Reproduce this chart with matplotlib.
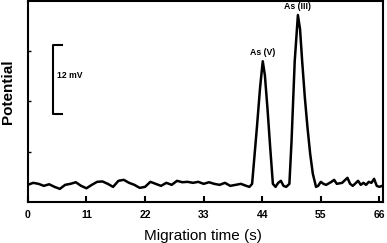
import numpy as np
import matplotlib
matplotlib.use("Agg")
import matplotlib.pyplot as plt

plt.rcParams["font.family"] = ["Liberation Sans", "DejaVu Sans"]

# electropherogram trace (time in s, signal in arbitrary units)
time = [0, 1, 2, 3, 4, 5, 6, 7, 8, 9, 10, 11, 12, 13, 14, 15, 16, 17, 18, 19,
        20, 21, 22, 23, 24, 25, 26, 27, 28, 29, 30, 31, 32, 33, 34, 35, 36, 37,
        38, 39, 40, 41, 41.6,
        42.1, 43, 43.6, 44.1, 44.5, 45, 45.5, 46, 46.5, 47, 47.5, 48, 48.5,
        49.1, 49.5, 50.1, 50.7, 51.1, 51.5, 52, 52.5, 53, 53.5, 54.1, 54.5,
        55, 55.5, 56, 57, 57.5, 58, 59, 60, 60.5, 61, 62, 62.5, 63, 63.5, 64,
        64.5, 65, 65.5, 66, 66.5]
signal = [8.5, 9.5, 9.0, 8.0, 8.8, 7.5, 6.5, 8.5, 9.0, 9.8, 8.0, 6.8, 8.5, 10.0,
          10.2, 9.0, 7.5, 10.5, 11.0, 9.5, 8.5, 7.0, 7.5, 10.0, 9.0, 8.0, 9.5,
          8.5, 10.5, 9.8, 10.0, 9.5, 10.0, 9.0, 9.8, 9.0, 8.5, 9.5, 8.0, 8.5,
          9.0, 8.0, 7.5,
          9, 37, 57, 70, 63, 46, 27, 9, 7.5, 9.5, 10.5, 8, 7.5,
          9, 30, 70, 93, 86, 70, 52, 37, 24, 14, 7.5, 8,
          10, 9, 8.5, 10, 11, 9, 9.5, 12, 9, 8, 10.5, 8.5, 9.5, 8.5, 10,
          9.5, 11.5, 8, 7.5, 8]

xticks = [0, 11, 22, 33, 44, 55, 66]
peak_names = ["As (V)", "As (III)"]
peak_pos = [(44.1, 70), (50.7, 93)]

fig = plt.figure(figsize=(3.87, 2.43), dpi=100)
ax = fig.add_axes([0.072, 0.169, 0.918, 0.827])

ax.plot(time, signal, color="black", lw=1.8)

# 12 mV scale bar
ax.plot([6.4, 4.7, 4.7, 6.4], [78, 78, 44, 44], color="black", lw=1.5)
ax.text(5.5, 63, "12 mV", fontsize=6.2, fontweight="bold", va="center")

for name, (px, py) in zip(peak_names, peak_pos):
    ax.text(px, py + 2, name, fontsize=6.3, fontweight="bold", ha="center", va="bottom")

ax.set_xlim(0, 66.7)
ax.set_ylim(0, 100)
ax.set_xticks(xticks)
ax.set_xticklabels([str(x) for x in xticks], fontsize=7.5, fontweight="bold")
ax.set_yticks([25, 50, 75])
ax.set_yticklabels([])
ax.tick_params(axis="x", direction="in", length=4, width=1.5, pad=6)
ax.tick_params(axis="y", direction="in", length=2, width=1)
for s in ax.spines.values():
    s.set_linewidth(1.5)

ax.set_xlabel("Migration time (s)", fontsize=11)
ax.xaxis.set_label_coords(0.493, -0.135)
ax.set_ylabel("Potential", fontsize=11, fontweight="bold")
ax.yaxis.set_label_coords(-0.035, 0.55)

fig.savefig("out.png", dpi=100)
